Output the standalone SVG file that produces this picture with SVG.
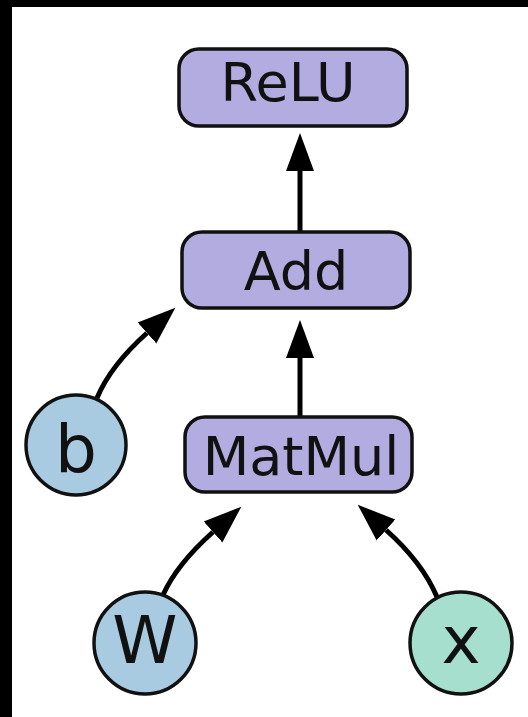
<svg xmlns="http://www.w3.org/2000/svg" width="528" height="717" viewBox="0 0 528 717">
<style>
.op{fill:#b2ace1;stroke:#111;stroke-width:3.5}
.var{fill:#a9cbe2;stroke:#111;stroke-width:3.5}
.inp{fill:#a6dfcd;stroke:#111;stroke-width:3.5}
.t{font-family:"DejaVu Sans",sans-serif;fill:#111;text-anchor:middle}
.lbl{font-size:54px}
.cl{font-size:66px}
.edge{fill:none;stroke:#000;stroke-width:5;marker-end:url(#ah)}
</style>
<defs>
<marker id="ah" markerUnits="userSpaceOnUse" markerWidth="40" markerHeight="30" refX="0" refY="14" orient="auto" viewBox="0 0 40 28">
<path d="M0,0 L38,14 L0,28 Z" fill="#000"/>
</marker>
</defs>
<rect x="0" y="0" width="528" height="717" fill="#fff"/>
<rect x="0" y="0" width="528" height="7" fill="#000"/>
<rect x="0" y="0" width="12" height="717" fill="#000"/>
<g id="connectors">
<path class="edge" d="M300,232 L300,171"/>
<path class="edge" d="M300,417 L300,358"/>
<path class="edge" d="M97,398 Q110.6,365.5 147,333"/>
<path class="edge" d="M163,595 Q176.6,564.5 213,532"/>
<path class="edge" d="M437,597 Q422.4,562.5 386,530"/>
</g>
<g id="relu">
<rect class="op" x="179" y="49" width="228" height="77" rx="20"/>
<text class="t lbl" x="288" y="101">ReLU</text>
</g>
<g id="add">
<rect class="op" x="182" y="232" width="228" height="76" rx="20"/>
<text class="t lbl" x="296" y="290">Add</text>
</g>
<g id="matmul">
<rect class="op" x="185" y="417" width="227" height="75" rx="20"/>
<text class="t lbl" x="301" y="475">MatMul</text>
</g>
<g id="b">
<circle class="var" cx="76" cy="445" r="50"/>
<text class="t cl" x="76" y="472">b</text>
</g>
<g id="W">
<circle class="var" cx="145" cy="643" r="51"/>
<text class="t cl" x="145" y="663">W</text>
</g>
<g id="x">
<circle class="inp" cx="461" cy="643" r="51"/>
<text class="t cl" x="461" y="663">x</text>
</g>
</svg>
